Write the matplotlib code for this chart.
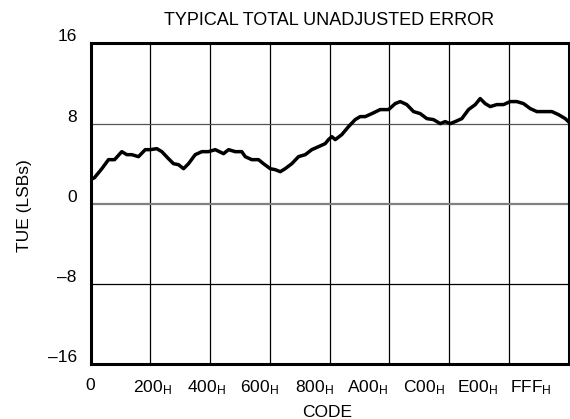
import matplotlib
matplotlib.use("Agg")
import matplotlib.pyplot as plt
import matplotlib.transforms as mtransforms

plt.rcParams['font.family'] = ['Liberation Sans', 'DejaVu Sans']
plt.rcParams['mathtext.fontset'] = 'custom'
plt.rcParams['mathtext.rm'] = 'Liberation Sans'
plt.rcParams['mathtext.it'] = 'Liberation Sans'

# ---- data ----
code = [0, 34, 97, 154, 206, 268, 311, 354, 411, 469, 512, 568, 611, 668, 711, 754,
        797, 840, 897, 954, 1011, 1069, 1140, 1183, 1240, 1296, 1326, 1382, 1440,
        1482, 1540, 1583, 1626, 1668, 1725, 1782, 1840, 1896, 1954, 2011, 2039,
        2068, 2097, 2153, 2211, 2268, 2311, 2354, 2411, 2482, 2554, 2611, 2654,
        2710, 2768, 2825, 2882, 2939, 2997, 3039, 3082, 3125, 3182, 3239, 3297,
        3339, 3382, 3425, 3482, 3539, 3596, 3653, 3710, 3768, 3825, 3896, 3953,
        4010, 4068, 4095]
tue = [2.4, 2.6, 3.5, 4.4, 4.4, 5.2, 4.9, 4.9, 4.7, 5.4, 5.4, 5.5, 5.2, 4.5, 4.0, 3.9,
       3.5, 4.0, 4.9, 5.2, 5.2, 5.4, 5.0, 5.4, 5.2, 5.2, 4.7, 4.4, 4.4,
       4.0, 3.5, 3.4, 3.2, 3.5, 4.0, 4.7, 4.9, 5.4, 5.7, 6.0, 6.4,
       6.7, 6.4, 6.9, 7.7, 8.4, 8.7, 8.7, 9.0, 9.4, 9.4, 10.0, 10.2,
       9.9, 9.2, 9.0, 8.5, 8.4, 8.0, 8.2, 8.0, 8.2, 8.5, 9.4, 9.9,
       10.5, 10.0, 9.7, 9.9, 9.9, 10.2, 10.2, 10.0, 9.5, 9.2, 9.2, 9.2,
       8.9, 8.5, 8.2]

y_ticks = [-16, -8, 0, 8, 16]
y_tick_labels = ['–16', '–8', '0', '8', '16']
grid_x = [512, 1024, 1536, 2048, 2560, 3072, 3584]
x_label_pos = [0, 531, 994, 1448, 1919, 2374, 2853, 3316, 3770]
x_tick_labels = ['0', r'200$_\mathregular{H}$', r'400$_\mathregular{H}$',
                 r'600$_\mathregular{H}$', r'800$_\mathregular{H}$',
                 r'A00$_\mathregular{H}$', r'C00$_\mathregular{H}$',
                 r'E00$_\mathregular{H}$', r'FFF$_\mathregular{H}$']

fig = plt.figure(figsize=(5.70, 4.19), dpi=100)
ax = fig.add_axes([0.1588, 0.1313, 0.8386, 0.7649])
ax.set_xlim(0, 4096)
ax.set_ylim(-16, 16)

for gx in grid_x:
    ax.axvline(gx, color='black', lw=0.9, zorder=1)
ax.axhline(8, color='#555555', lw=0.9, zorder=1)
ax.axhline(0, color='#808080', lw=1.6, zorder=1)
ax.axhline(-8, color='black', lw=0.9, zorder=1)

ax.plot(code, tue, color='black', lw=2.5, zorder=3)

for s in ax.spines.values():
    s.set_linewidth(2.2)
    s.set_color('black')

FS = 12.5
ax.set_yticks(y_ticks)
ax.set_yticklabels(y_tick_labels, fontsize=FS)
ax.tick_params(axis='y', length=0, pad=10)
off = mtransforms.ScaledTranslation(0, 8/100, fig.dpi_scale_trans)
for lab in ax.get_yticklabels():
    lab.set_transform(lab.get_transform() + off)

ax.set_xticks(x_label_pos)
ax.set_xticklabels(x_tick_labels, fontsize=FS)
ax.tick_params(axis='x', length=0, pad=10)

ax.set_xlabel('CODE', fontsize=FS)
ax.xaxis.set_label_coords(0.495, -0.127)
ax.set_ylabel('TUE (LSBs)', fontsize=FS)
ax.yaxis.set_label_coords(-0.1224, 0.493)
ax.set_title('TYPICAL TOTAL UNADJUSTED ERROR', fontsize=13, pad=13)

fig.savefig('out.png', dpi=100)
